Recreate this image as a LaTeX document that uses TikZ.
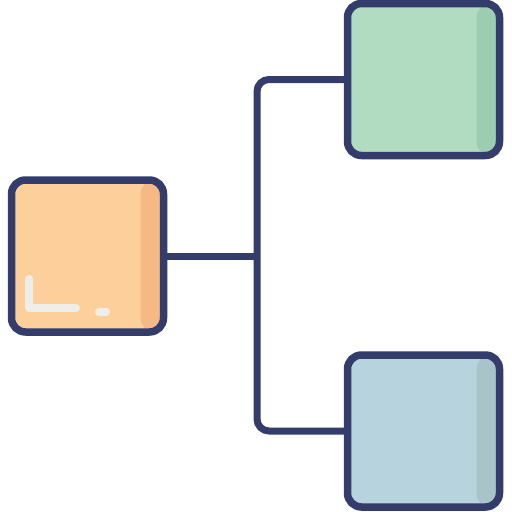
\documentclass[tikz,border=0pt]{standalone}
\definecolor{navy}{HTML}{333C6B}
\definecolor{orfill}{HTML}{FDD09B}
\definecolor{orstrip}{HTML}{F4B984}
\definecolor{grfill}{HTML}{B1DCC2}
\definecolor{grstrip}{HTML}{9DCDB0}
\definecolor{blfill}{HTML}{B7D3DD}
\definecolor{blstrip}{HTML}{A9C4C8}
\definecolor{hilite}{HTML}{EEEEEA}
\tikzset{
  card/.style 2 args={draw=navy, line width=7.5pt, fill=#1, rounded corners=14pt,
    minimum width=152pt, minimum height=152pt, inner sep=0pt, shape=rectangle,
    path picture={\fill[#2] ([xshift=-23pt]path picture bounding box.north east) rectangle (path picture bounding box.south east);}},
  wire/.style={draw=navy, line width=7pt},
  shine/.style={draw=hilite, line width=8pt, line cap=round, line join=round}
}
\begin{document}
\begin{tikzpicture}[x=1pt,y=-1pt]
\useasboundingbox (0,0) rectangle (512,512);
\coordinate (j) at (257,256);
\node[card={orfill}{orstrip}] (o) at (87.5,256) {};
\node[card={grfill}{grstrip}] (g) at (423.5,79.5) {};
\node[card={blfill}{blstrip}] (b) at (423.5,431) {};
\draw[wire] (o.east) -- (j);
\draw[wire, rounded corners=12pt] (g.west) -- (j|-g.west) -- (j|-b.west) -- (b.west);
\draw[shine] (29,279) -- (29,307.5) -- (76,307.5);
\draw[shine] (99,311.5) -- (106,311.5);
\end{tikzpicture}
\end{document}
